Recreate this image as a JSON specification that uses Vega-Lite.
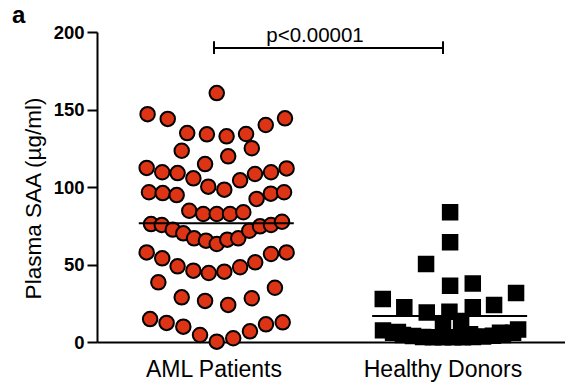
{
  "$schema": "https://vega.github.io/schema/vega-lite/v6.json",
  "autosize": "none",
  "width": 468,
  "height": 310,
  "padding": {"left": 97, "top": 32, "right": 0, "bottom": 47},
  "title": {"text": "a", "anchor": "start", "frame": "group", "fontSize": 24, "fontWeight": "bold", "font": "Liberation Sans", "color": "black", "dx": -85, "dy": 10, "offset": 5},
  "config": {"view": {"stroke": null}, "font": "Liberation Sans"},
  "datasets": {
    "pts": [
      {"group": "AML Patients", "jitter": 0.012, "saa": 160.6},
      {"group": "AML Patients", "jitter": -0.290, "saa": 147},
      {"group": "AML Patients", "jitter": -0.202, "saa": 143.9},
      {"group": "AML Patients", "jitter": 0.310, "saa": 144.3},
      {"group": "AML Patients", "jitter": 0.226, "saa": 140},
      {"group": "AML Patients", "jitter": -0.117, "saa": 134.8},
      {"group": "AML Patients", "jitter": -0.031, "saa": 134},
      {"group": "AML Patients", "jitter": 0.055, "saa": 132.7},
      {"group": "AML Patients", "jitter": 0.140, "saa": 134.2},
      {"group": "AML Patients", "jitter": -0.141, "saa": 123.4},
      {"group": "AML Patients", "jitter": 0.165, "saa": 125},
      {"group": "AML Patients", "jitter": 0.062, "saa": 119.8},
      {"group": "AML Patients", "jitter": -0.039, "saa": 114.8},
      {"group": "AML Patients", "jitter": -0.294, "saa": 112.3},
      {"group": "AML Patients", "jitter": -0.226, "saa": 109.5},
      {"group": "AML Patients", "jitter": -0.159, "saa": 109},
      {"group": "AML Patients", "jitter": -0.090, "saa": 105.6},
      {"group": "AML Patients", "jitter": -0.025, "saa": 100.2},
      {"group": "AML Patients", "jitter": 0.045, "saa": 98.3},
      {"group": "AML Patients", "jitter": 0.114, "saa": 104.3},
      {"group": "AML Patients", "jitter": 0.179, "saa": 108.4},
      {"group": "AML Patients", "jitter": 0.249, "saa": 109.5},
      {"group": "AML Patients", "jitter": 0.317, "saa": 112},
      {"group": "AML Patients", "jitter": -0.284, "saa": 96.6},
      {"group": "AML Patients", "jitter": -0.224, "saa": 96.1},
      {"group": "AML Patients", "jitter": -0.163, "saa": 94.8},
      {"group": "AML Patients", "jitter": 0.186, "saa": 92.3},
      {"group": "AML Patients", "jitter": 0.248, "saa": 95.7},
      {"group": "AML Patients", "jitter": 0.306, "saa": 96.6},
      {"group": "AML Patients", "jitter": -0.108, "saa": 84.7},
      {"group": "AML Patients", "jitter": -0.047, "saa": 82.6},
      {"group": "AML Patients", "jitter": 0.012, "saa": 82.6},
      {"group": "AML Patients", "jitter": 0.070, "saa": 82.6},
      {"group": "AML Patients", "jitter": 0.128, "saa": 83.7},
      {"group": "AML Patients", "jitter": -0.275, "saa": 76.1},
      {"group": "AML Patients", "jitter": -0.228, "saa": 75.5},
      {"group": "AML Patients", "jitter": -0.180, "saa": 72.5},
      {"group": "AML Patients", "jitter": -0.134, "saa": 70.1},
      {"group": "AML Patients", "jitter": -0.087, "saa": 66.9},
      {"group": "AML Patients", "jitter": -0.035, "saa": 65.4},
      {"group": "AML Patients", "jitter": 0.012, "saa": 63.2},
      {"group": "AML Patients", "jitter": 0.058, "saa": 66},
      {"group": "AML Patients", "jitter": 0.106, "saa": 66.9},
      {"group": "AML Patients", "jitter": 0.154, "saa": 71.8},
      {"group": "AML Patients", "jitter": 0.201, "saa": 74.6},
      {"group": "AML Patients", "jitter": 0.249, "saa": 75.5},
      {"group": "AML Patients", "jitter": 0.297, "saa": 77.6},
      {"group": "AML Patients", "jitter": -0.294, "saa": 57.8},
      {"group": "AML Patients", "jitter": -0.226, "saa": 54},
      {"group": "AML Patients", "jitter": -0.159, "saa": 48.8},
      {"group": "AML Patients", "jitter": -0.090, "saa": 46},
      {"group": "AML Patients", "jitter": -0.023, "saa": 44.5},
      {"group": "AML Patients", "jitter": 0.045, "saa": 45.4},
      {"group": "AML Patients", "jitter": 0.114, "saa": 48.2},
      {"group": "AML Patients", "jitter": 0.180, "saa": 51.4},
      {"group": "AML Patients", "jitter": 0.249, "saa": 56.8},
      {"group": "AML Patients", "jitter": 0.317, "saa": 57.8},
      {"group": "AML Patients", "jitter": -0.243, "saa": 38.5},
      {"group": "AML Patients", "jitter": -0.141, "saa": 28.8},
      {"group": "AML Patients", "jitter": -0.039, "saa": 26.5},
      {"group": "AML Patients", "jitter": 0.062, "saa": 23.9},
      {"group": "AML Patients", "jitter": 0.165, "saa": 28.2},
      {"group": "AML Patients", "jitter": 0.266, "saa": 35},
      {"group": "AML Patients", "jitter": -0.279, "saa": 14.8},
      {"group": "AML Patients", "jitter": -0.207, "saa": 12.3},
      {"group": "AML Patients", "jitter": -0.134, "saa": 9.9},
      {"group": "AML Patients", "jitter": -0.061, "saa": 4.5},
      {"group": "AML Patients", "jitter": 0.012, "saa": 0.2},
      {"group": "AML Patients", "jitter": 0.084, "saa": 2.4},
      {"group": "AML Patients", "jitter": 0.157, "saa": 6.9},
      {"group": "AML Patients", "jitter": 0.227, "saa": 11.4},
      {"group": "AML Patients", "jitter": 0.300, "saa": 12.7},
      {"group": "Healthy Donors", "jitter": 0.031, "saa": 83.7},
      {"group": "Healthy Donors", "jitter": 0.031, "saa": 64.3},
      {"group": "Healthy Donors", "jitter": -0.074, "saa": 50.3},
      {"group": "Healthy Donors", "jitter": 0.031, "saa": 36.3},
      {"group": "Healthy Donors", "jitter": 0.130, "saa": 37.8},
      {"group": "Healthy Donors", "jitter": 0.319, "saa": 31.6},
      {"group": "Healthy Donors", "jitter": -0.263, "saa": 27.7},
      {"group": "Healthy Donors", "jitter": -0.169, "saa": 22.4},
      {"group": "Healthy Donors", "jitter": -0.071, "saa": 19.1},
      {"group": "Healthy Donors", "jitter": 0.028, "saa": 19.5},
      {"group": "Healthy Donors", "jitter": 0.130, "saa": 22.4},
      {"group": "Healthy Donors", "jitter": 0.223, "saa": 23.9},
      {"group": "Healthy Donors", "jitter": -0.262, "saa": 7.5},
      {"group": "Healthy Donors", "jitter": -0.218, "saa": 6},
      {"group": "Healthy Donors", "jitter": -0.175, "saa": 4.5},
      {"group": "Healthy Donors", "jitter": -0.131, "saa": 3.8},
      {"group": "Healthy Donors", "jitter": -0.087, "saa": 3.2},
      {"group": "Healthy Donors", "jitter": -0.044, "saa": 3},
      {"group": "Healthy Donors", "jitter": 0.000, "saa": 3},
      {"group": "Healthy Donors", "jitter": 0.044, "saa": 3},
      {"group": "Healthy Donors", "jitter": 0.087, "saa": 3},
      {"group": "Healthy Donors", "jitter": 0.131, "saa": 3.2},
      {"group": "Healthy Donors", "jitter": 0.175, "saa": 3.5},
      {"group": "Healthy Donors", "jitter": 0.218, "saa": 4},
      {"group": "Healthy Donors", "jitter": 0.262, "saa": 4.5},
      {"group": "Healthy Donors", "jitter": 0.306, "saa": 6},
      {"group": "Healthy Donors", "jitter": 0.328, "saa": 8},
      {"group": "Healthy Donors", "jitter": 0.000, "saa": 11},
      {"group": "Healthy Donors", "jitter": 0.079, "saa": 13.5},
      {"group": "Healthy Donors", "jitter": -0.197, "saa": 6.5},
      {"group": "Healthy Donors", "jitter": 0.118, "saa": 5},
      {"group": "Healthy Donors", "jitter": 0.249, "saa": 6}
    ],
    "medians": [
      {"group": "AML Patients", "jitter": 0.01, "saa": 76.6},
      {"group": "Healthy Donors", "jitter": 0.029, "saa": 16.8}
    ],
    "bracket": [
      {"from": "AML Patients", "to": "Healthy Donors", "saa": 189.7}
    ],
    "bracketEnds": [
      {"group": "AML Patients", "lo": 185.8, "hi": 194},
      {"group": "Healthy Donors", "lo": 185.8, "hi": 194}
    ],
    "pLabel": [
      {"group": "AML Patients", "jitter": 0.441, "saa": 193.6, "label": "p<0.00001"}
    ]
  },
  "encoding": {
    "x": {
      "field": "group", "type": "nominal",
      "scale": {"domain": ["AML Patients", "Healthy Donors"], "paddingInner": 0, "paddingOuter": 0.0218, "align": 0.25},
      "axis": {"title": null, "labelAngle": 0, "ticks": false, "labelFontSize": 23, "labelFont": "Liberation Sans", "labelColor": "black", "labelPadding": 16, "domainColor": "black", "domainWidth": 2}
    }
  },
  "layer": [
    {
      "data": {"name": "pts"},
      "mark": {"type": "point", "filled": true, "stroke": "black", "strokeWidth": 2, "size": 210, "opacity": 1},
      "encoding": {
        "xOffset": {"field": "jitter", "type": "quantitative", "scale": {"domain": [-0.5, 0.5]}},
        "y": {
          "field": "saa", "type": "quantitative",
          "scale": {"domain": [0, 200], "nice": false, "zero": true},
          "axis": {"values": [0, 50, 100, 150, 200], "title": "Plasma SAA (µg/ml)", "titleFontSize": 22.5, "titleFontWeight": "normal", "titleFont": "Liberation Sans", "titleColor": "black", "titlePadding": 8, "titleY": 166, "labelFontSize": 18.5, "labelFontWeight": "bold", "labelFont": "Liberation Sans", "labelColor": "black", "labelPadding": 3, "tickSize": 10, "tickWidth": 2, "tickColor": "black", "domainColor": "black", "domainWidth": 2, "grid": false}
        },
        "shape": {"field": "group", "type": "nominal", "scale": {"domain": ["AML Patients", "Healthy Donors"], "range": ["circle", "square"]}, "legend": null},
        "fill": {"field": "group", "type": "nominal", "scale": {"domain": ["AML Patients", "Healthy Donors"], "range": ["#DC3414", "black"]}, "legend": null}
      }
    },
    {
      "data": {"name": "medians"},
      "mark": {"type": "tick", "color": "black", "size": 155, "thickness": 2, "opacity": 1},
      "encoding": {
        "xOffset": {"field": "jitter", "type": "quantitative"},
        "y": {"field": "saa", "type": "quantitative"}
      }
    },
    {
      "data": {"name": "bracket"},
      "mark": {"type": "rule", "color": "black", "strokeWidth": 2},
      "encoding": {
        "x": {"field": "from", "type": "nominal"},
        "x2": {"field": "to"},
        "y": {"field": "saa", "type": "quantitative"}
      }
    },
    {
      "data": {"name": "bracketEnds"},
      "mark": {"type": "rule", "color": "black", "strokeWidth": 2},
      "encoding": {
        "y": {"field": "lo", "type": "quantitative"},
        "y2": {"field": "hi"}
      }
    },
    {
      "data": {"name": "pLabel"},
      "mark": {"type": "text", "fontSize": 20.5, "font": "Liberation Sans", "color": "black", "align": "center", "baseline": "alphabetic"},
      "encoding": {
        "xOffset": {"field": "jitter", "type": "quantitative"},
        "y": {"field": "saa", "type": "quantitative"},
        "text": {"field": "label"}
      }
    }
  ]
}
